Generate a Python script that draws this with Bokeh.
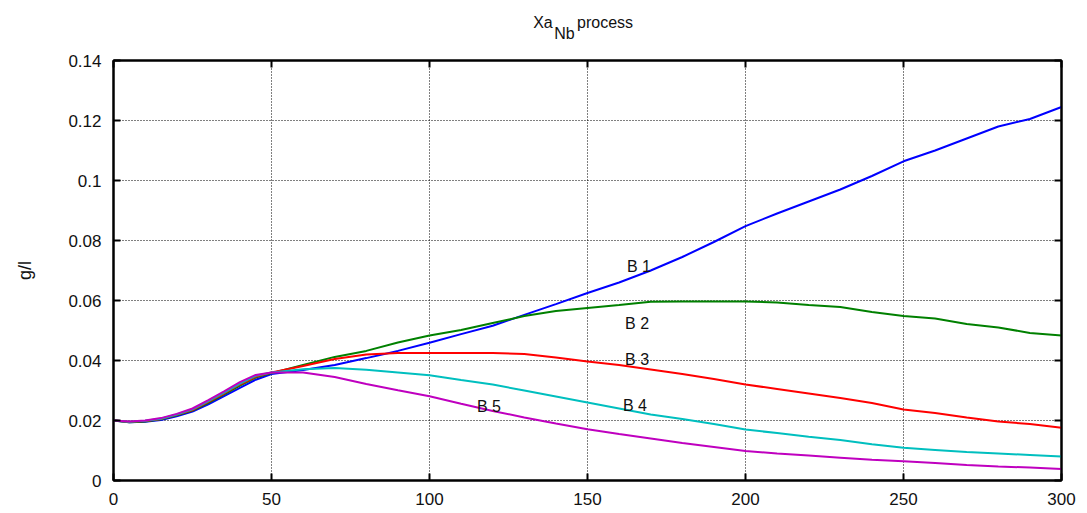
from bokeh.plotting import figure
from bokeh.layouts import column
from bokeh.models import (Range1d, FixedTicker, LinearAxis, Label, PrintfTickFormatter,
                          CustomJSTickFormatter)
from bokeh.core.properties import value
from bokeh.embed import file_html
from bokeh.resources import INLINE

# ---- data ----
x = [0, 5, 10, 15, 20, 25, 30, 35, 40, 45, 50,
     60, 70, 80, 90, 100, 110, 120, 130, 140, 150,
     160, 170, 180, 190, 200, 210, 220, 230, 240, 250,
     260, 270, 280, 290, 300]

b1 = [0.0200, 0.0194, 0.0196, 0.0202, 0.0214, 0.0230, 0.0254, 0.0281, 0.0309, 0.0336, 0.0355,
      0.0368, 0.0385, 0.0408, 0.0432, 0.0459, 0.0488, 0.0516, 0.0552, 0.0588, 0.0625,
      0.0660, 0.0700, 0.0745, 0.0795, 0.0848, 0.0890, 0.0930, 0.0970, 0.1015, 0.1064,
      0.1100, 0.1140, 0.1180, 0.1205, 0.1245]
b2 = [0.0200, 0.0194, 0.0197, 0.0204, 0.0217, 0.0233, 0.0259, 0.0287, 0.0316, 0.0343, 0.0358,
      0.0385, 0.0412, 0.0432, 0.0460, 0.0483, 0.0502, 0.0525, 0.0548, 0.0565, 0.0575,
      0.0585, 0.0596, 0.0597, 0.0597, 0.0597, 0.0593, 0.0585, 0.0578, 0.0562, 0.0548,
      0.0540, 0.0522, 0.0510, 0.0492, 0.0483]
b3 = [0.0200, 0.0196, 0.0198, 0.0205, 0.0219, 0.0235, 0.0262, 0.0290, 0.0320, 0.0346, 0.0360,
      0.0382, 0.0405, 0.0420, 0.0425, 0.0425, 0.0425, 0.0425, 0.0422, 0.0410, 0.0397,
      0.0385, 0.0370, 0.0355, 0.0338, 0.0320, 0.0305, 0.0290, 0.0275, 0.0258, 0.0237,
      0.0225, 0.0210, 0.0197, 0.0188, 0.0176]
b4 = [0.0200, 0.0196, 0.0199, 0.0206, 0.0220, 0.0237, 0.0265, 0.0293, 0.0323, 0.0349, 0.0360,
      0.0371, 0.0375, 0.0369, 0.0360, 0.0351, 0.0335, 0.0320, 0.0300, 0.0280, 0.0260,
      0.0240, 0.0220, 0.0205, 0.0188, 0.0170, 0.0158, 0.0146, 0.0135, 0.0121, 0.0109,
      0.0102, 0.0095, 0.0090, 0.0085, 0.0080]
b5 = [0.0200, 0.0197, 0.0200, 0.0208, 0.0222, 0.0240, 0.0268, 0.0297, 0.0328, 0.0352, 0.0360,
      0.0360, 0.0345, 0.0322, 0.0301, 0.0281, 0.0256, 0.0232, 0.0210, 0.0190, 0.0171,
      0.0155, 0.0140, 0.0125, 0.0112, 0.0098, 0.0090, 0.0083, 0.0076, 0.0069, 0.0064,
      0.0058, 0.0052, 0.0047, 0.0043, 0.0038]

series = [b1, b2, b3, b4, b5]
series_names = ["B 1", "B 2", "B 3", "B 4", "B 5"]
colors = ["#0000ff", "#008000", "#ff0000", "#00bfbf", "#bf00bf"]

x_ticks = [0, 50, 100, 150, 200, 250, 300]
y_ticks = [0, 0.02, 0.04, 0.06, 0.08, 0.1, 0.12, 0.14]

title_parts = ["Xa", "Nb", "process"]

# label anchor positions (data units)
label_pos = [(162.5, 0.0714), (161.9, 0.0522), (161.9, 0.0403), (161.2, 0.0251), (115.0, 0.0248)]
# title part anchors: x in the chart's x units, y in pixels of the title strip (from bottom)
title_pos = [(132.8, 26), (139.5, 15), (146.7, 26)]

FONT = "Liberation Sans"
W, H_TITLE, H_MAIN = 1087, 48, 465
BL, BR = 113, 26

# ---- title strip ----
t = figure(width=W, height=H_TITLE, output_backend="svg", toolbar_location=None,
           title=None, x_axis_type=None, y_axis_type=None,
           x_range=Range1d(0, 300), y_range=Range1d(0, H_TITLE),
           min_border_left=BL, min_border_right=BR, min_border_top=0, min_border_bottom=0,
           outline_line_color=None,
           background_fill_color="white", border_fill_color="white")
t.xgrid.visible = False
t.ygrid.visible = False
t.text(x=[pp[0] for pp in title_pos], y=[pp[1] for pp in title_pos], text=title_parts,
       text_font=value(FONT), text_font_size="16px", text_color="#111111",
       text_baseline="alphabetic", text_align="left")

# ---- main chart ----
p = figure(width=W, height=H_MAIN, output_backend="svg", toolbar_location=None,
           title=None,
           x_range=Range1d(0, 300), y_range=Range1d(0, 0.14),
           min_border_left=BL, min_border_right=BR, min_border_top=12, min_border_bottom=33,
           background_fill_color="white", border_fill_color="white")

for ys, c in zip(series, colors):
    p.line(x, ys, line_color=c, line_width=2)

for ax in (p.xaxis[0], p.yaxis[0]):
    ax.axis_line_color = "black"
    ax.axis_line_width = 2
    ax.major_tick_in = 7
    ax.major_tick_out = 0
    ax.major_tick_line_color = "black"
    ax.major_tick_line_width = 2
    ax.minor_tick_line_color = None
    ax.major_label_text_font = FONT
    ax.major_label_text_font_size = "17px"
    ax.major_label_text_color = "#111111"
    ax.formatter = PrintfTickFormatter(format="%g")

p.xaxis[0].ticker = FixedTicker(ticks=x_ticks)
p.yaxis[0].ticker = FixedTicker(ticks=y_ticks)
p.xaxis[0].major_label_standoff = 12
p.yaxis[0].major_label_standoff = 12
p.yaxis[0].axis_label = "g/l"
p.yaxis[0].axis_label_text_font = FONT
p.yaxis[0].axis_label_text_font_style = "normal"
p.yaxis[0].axis_label_text_font_size = "18px"
p.yaxis[0].axis_label_text_color = "#111111"
p.yaxis[0].axis_label_standoff = 30

blank = CustomJSTickFormatter(code="return ''")
right = LinearAxis(ticker=FixedTicker(ticks=y_ticks), formatter=blank,
                   major_label_text_color=None, major_label_standoff=0,
                   major_tick_in=7, major_tick_out=0, major_tick_line_width=2,
                   minor_tick_line_color=None, axis_line_color="black", axis_line_width=2)
top = LinearAxis(ticker=FixedTicker(ticks=x_ticks), formatter=blank,
                 major_label_text_color=None, major_label_standoff=0,
                 major_tick_in=7, major_tick_out=0, major_tick_line_width=2,
                 minor_tick_line_color=None, axis_line_color="black", axis_line_width=2)
p.add_layout(right, "right")
p.add_layout(top, "above")

p.xgrid.ticker = FixedTicker(ticks=x_ticks)
p.ygrid.ticker = FixedTicker(ticks=y_ticks)
for g in (p.xgrid[0], p.ygrid[0]):
    g.grid_line_color = "black"
    g.grid_line_dash = "1 2"
    g.grid_line_width = 1

p.outline_line_color = "black"
p.outline_line_width = 2

for (lx, ly), name in zip(label_pos, series_names):
    p.add_layout(Label(x=lx, y=ly, text=name, text_font=FONT, text_font_size="16px",
                       text_color="#111111", text_baseline="alphabetic", text_align="left"))

layout = column(t, p, spacing=0)
open("out.html", "w").write(file_html(layout, INLINE))
